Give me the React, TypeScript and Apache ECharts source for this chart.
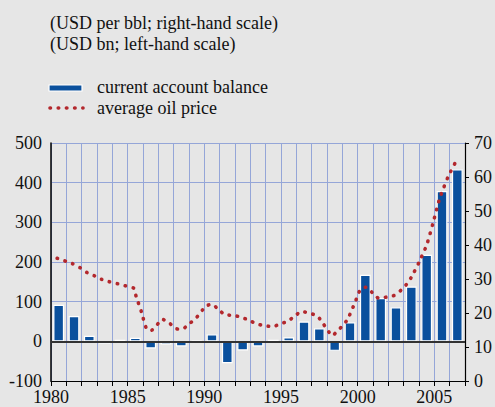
import React, { useEffect, useRef } from "react";
import * as echarts from "echarts";

const years: number[] = [
  1980, 1981, 1982, 1983, 1984, 1985, 1986, 1987, 1988, 1989, 1990, 1991, 1992, 1993,
  1994, 1995, 1996, 1997, 1998, 1999, 2000, 2001, 2002, 2003, 2004, 2005, 2006,
];
const currentAccount: number[] = [
  92, 64, 14, -6, 4, 9, -18, -8, -13, 1, 18, -55, -23, -13,
  4, 10, 50, 33, -24, 48, 168, 109, 86, 138, 218, 379, 434,
];
// average oil price (USD per bbl): [time, price]
const oilTime: number[] = [
  1980.4, 1981.4, 1981.9, 1982.35, 1982.85, 1983.3, 1983.8, 1984.35, 1984.85, 1985.4,
  1985.55, 1985.9, 1986.2, 1986.5, 1987.3, 1987.7, 1988.15, 1988.55, 1989.0, 1989.4,
  1990.1, 1990.5, 1990.9, 1991.35, 1991.9, 1992.45, 1992.95, 1993.4, 1993.9, 1994.45,
  1994.95, 1995.45, 1995.9, 1996.35, 1996.85, 1997.35, 1997.7, 1998.0, 1998.35, 1998.65,
  1999.05, 1999.35, 1999.8, 2000.2, 2000.55, 2000.95, 2001.35, 2001.9, 2002.4, 2002.85,
  2003.2, 2003.5, 2004.0, 2004.5, 2004.9, 2005.3, 2005.5, 2005.9, 2006.4,
];
const oilPrice: number[] = [
  36.1, 34.5, 33.3, 31.9, 30.9, 29.9, 29.2, 28.6, 28.0, 27.3,
  24.9, 20.3, 15.7, 14.8, 18.1, 17.1, 15.4, 15.2, 16.8, 18.2,
  22.0, 22.6, 21.1, 19.5, 19.3, 18.7, 17.8, 16.8, 16.3, 16.0,
  16.8, 17.6, 19.1, 20.5, 19.9, 19.2, 17.2, 15.2, 13.3, 14.6,
  16.4, 18.2, 22.8, 27.1, 27.6, 26.0, 24.4, 24.7, 25.2, 26.8,
  28.5, 30.5, 34.9, 40.0, 46.2, 53.0, 55.6, 60.1, 64.5,
];
const titleLines: string[] = ["(USD per bbl; right-hand scale)", "(USD bn; left-hand scale)"];
const legendNames: string[] = ["current account balance", "average oil price"];

const FONT = '"Liberation Serif", "Times New Roman", serif';
const BLUE = "#0a509d";
const RED = "#b3282d";
const GRID = "#95a6d8";
const BG = "#e6e6e6";

export default function App() {
  const ref = useRef<HTMLDivElement>(null);
  useEffect(() => {
    if (!ref.current) return;
    const chart = echarts.init(ref.current, null, { renderer: "svg" });
    const textStyle = (text: string, x: number, y: number) => ({
      type: "text",
      style: { text, x, y, font: `18px ${FONT}`, fill: "#111", verticalAlign: "middle" },
    });
    chart.setOption({
      animation: false,
      backgroundColor: BG,
      grid: { left: 51, right: 30, top: 143, bottom: 26 },
      xAxis: {
        type: "value",
        min: 1980,
        max: 2007,
        interval: 1,
        axisLine: { show: true, onZero: false, lineStyle: { color: "#000", width: 1.2 } },
        axisTick: { show: true, length: 5, lineStyle: { color: "#000" } },
        axisLabel: {
          formatter: (v: number) => (v % 5 === 0 ? String(v) : ""),
          fontFamily: FONT,
          fontSize: 18,
          color: "#111",
          margin: 7,
        },
        splitLine: { show: true, lineStyle: { color: GRID, width: 1 } },
      },
      yAxis: [
        {
          type: "value",
          min: -100,
          max: 500,
          interval: 100,
          axisLine: { show: true, onZero: false, lineStyle: { color: "#000", width: 1.5 } },
          axisTick: { show: false },
          axisLabel: { fontFamily: FONT, fontSize: 18, color: "#111", margin: 9 },
          splitLine: { show: true, lineStyle: { color: GRID, width: 1 } },
        },
        {
          type: "value",
          min: 0,
          max: 70,
          interval: 10,
          position: "right",
          axisLine: { show: true, onZero: false, lineStyle: { color: "#000", width: 1.2 } },
          axisTick: { show: true, length: 4, lineStyle: { color: "#000" } },
          axisLabel: { fontFamily: FONT, fontSize: 18, color: "#111", margin: 9 },
          splitLine: { show: false },
        },
      ],
      series: [
        {
          type: "bar",
          name: legendNames[0],
          yAxisIndex: 0,
          barWidth: 10.8,
          data: years.map((y, i) => [y + 0.5, currentAccount[i]]),
          itemStyle: { color: BLUE, borderColor: "#ffffff", borderWidth: 1.2 },
          markLine: {
            silent: true,
            symbol: "none",
            label: { show: false },
            lineStyle: { color: "#333", width: 1.8, type: "solid" },
            data: [{ yAxis: 0 }],
          },
        },
        {
          type: "line",
          name: legendNames[1],
          yAxisIndex: 1,
          showSymbol: false,
          symbol: "none",
          smooth: 0.2,
          data: oilTime.map((t, i) => [t, oilPrice[i]]),
          lineStyle: { color: RED, width: 3.6, type: [0.5, 7.7], cap: "round" },
          z: 5,
        },
      ],
      graphic: [
        textStyle(titleLines[0], 50, 23),
        textStyle(titleLines[1], 50, 44),
        {
          type: "rect",
          shape: { x: 49, y: 85, width: 33, height: 6 },
          style: { fill: BLUE, stroke: "#ffffff", lineWidth: 1.2 },
        },
        textStyle(legendNames[0], 97, 87),
        {
          type: "line",
          shape: { x1: 50, y1: 108, x2: 83, y2: 108 },
          style: { stroke: RED, lineWidth: 3.6, lineDash: [0.5, 7.7], lineCap: "round" },
        },
        textStyle(legendNames[1], 97, 108),
      ],
    });
    return () => chart.dispose();
  }, []);
  return (
    <div
      ref={ref}
      style={{ position: "fixed", left: 0, top: 0, width: 495, height: 407 }}
    />
  );
}
